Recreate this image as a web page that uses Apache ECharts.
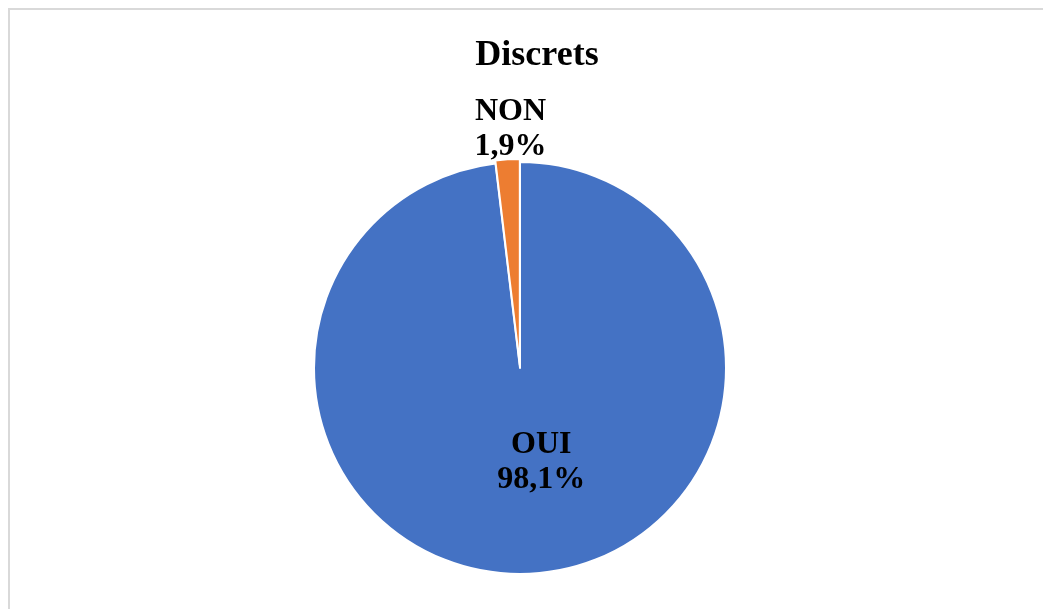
<!DOCTYPE html>
<html>
<head>
<meta charset="utf-8">
<script src="https://cdn.jsdelivr.net/npm/echarts@6/dist/echarts.min.js"></script>
<style>
  html, body { margin: 0; padding: 0; background: #fff; }
  #chart { width: 1043px; height: 609px; }
  #frame { position: absolute; left: 8px; top: 8px; width: 1100px; height: 700px; border: 2px solid #d9d9d9; box-sizing: border-box; pointer-events: none; }
</style>
</head>
<body>
<div id="chart"></div>
<div id="frame"></div>
<script>
const titleText = 'Discrets';
const categories = ['OUI', 'NON'];
const values = [98.1, 1.9];
const colors = ['#4472C4', '#ED7D31'];
const labelShifts = [[15, -12], [-3, -130]];

const chart = echarts.init(document.getElementById('chart'));
const fmt = v => v.toFixed(1).replace('.', ',') + '%';

chart.setOption({
  animation: false,
  title: {
    text: titleText,
    left: 532, textAlign: 'center',
    top: 33,
    textStyle: { fontFamily: 'Liberation Serif', fontWeight: 'bold', fontSize: 36, color: '#000' }
  },
  series: [{
    type: 'pie',
    center: [520, 368],
    radius: 206,
    startAngle: 90,
    clockwise: true,
    selectedMode: 'multiple',
    selectedOffset: 3,
    itemStyle: { borderColor: '#fff', borderWidth: 2 },
    label: {
      show: true,
      position: 'inside',
      fontFamily: 'Liberation Serif',
      fontWeight: 'bold',
      fontSize: 32,
      lineHeight: 35,
      color: '#000',
      formatter: p => p.name + '\n' + fmt(p.value)
    },
    labelLine: { show: false },
    labelLayout: p => ({ dx: labelShifts[p.dataIndex][0], dy: labelShifts[p.dataIndex][1] }),
    data: categories.map((c, i) => ({
      name: c, value: values[i], selected: i === 1,
      itemStyle: { color: colors[i] }
    }))
  }]
});
</script>
</body>
</html>
